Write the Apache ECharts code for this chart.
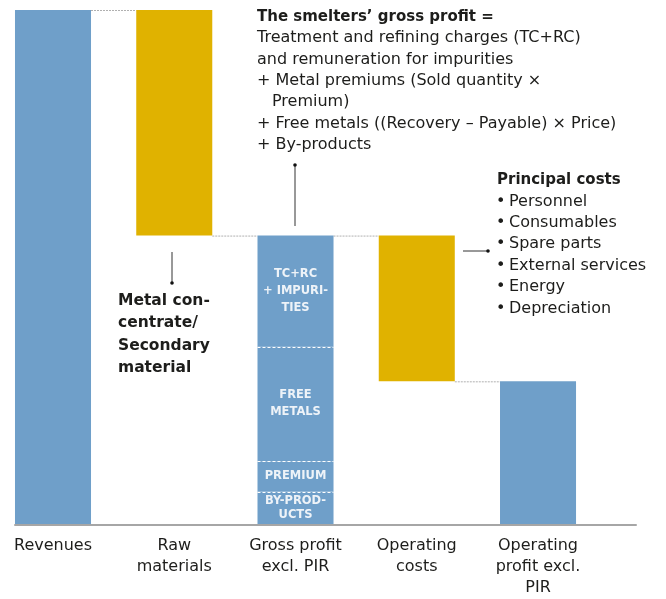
<!DOCTYPE html>
<html>
<head>
<meta charset="utf-8">
<script src="https://cdn.jsdelivr.net/npm/echarts@6/dist/echarts.min.js"></script>
<style>
  html, body { margin: 0; padding: 0; background: #fff; }
  #chart { width: 666px; height: 599px; }
</style>
</head>
<body>
<div id="chart"></div>
<script>
// ---- data ----
const categories = ['Revenues', 'Raw\nmaterials', 'Gross profit\nexcl. PIR', 'Operating\ncosts', 'Operating\nprofit excl.\nPIR'];
const revenues = 100;
const rawMaterials = 43.8;
const operatingCosts = 28.3;
// gross profit components, bottom to top
const grossParts = [6.5, 5.9, 22.2, 21.6];
const grossPartLabels = ['BY-PROD-\nUCTS', 'PREMIUM', 'FREE\nMETALS', 'TC+RC\n+ IMPURI-\nTIES'];

// ---- styles ----
const BLUE = '#6f9fc9';
const GOLD = '#e0b200';
const TEXT = '#1d1d1b';
const FONT = '"DejaVu Sans"';

// ---- waterfall construction ----
const grossProfit = revenues - rawMaterials;
const operatingProfit = grossProfit - operatingCosts;

const bars = []; // [x, low, high, colorIndex, label]
bars.push([0, 0, revenues, 0, '']);
bars.push([1, grossProfit, revenues, 1, '']);
let acc = 0;
const separators = [];
grossParts.forEach((v, i) => {
  bars.push([2, acc, acc + v, 0, grossPartLabels[i]]);
  acc += v;
  if (i < grossParts.length - 1) separators.push([2, acc]);
});
bars.push([3, operatingProfit, grossProfit, 1, '']);
bars.push([4, 0, operatingProfit, 0, '']);

const connectors = [
  [0, 1, revenues],
  [1, 2, grossProfit],
  [2, 3, grossProfit],
  [3, 4, operatingProfit]
];

const BAR_FRAC = 0.627;

const chart = echarts.init(document.getElementById('chart'), null, { renderer: 'canvas' });

function txt(text, x, y, bold, size, lh) {
  return {
    type: 'text', z: 100,
    style: {
      text: text, x: x, y: y,
      font: (bold ? 'bold ' : '') + size + 'px ' + FONT,
      fill: TEXT, lineHeight: lh, verticalAlign: 'top', align: 'left'
    }
  };
}
function arrow(x1, y1, x2, y2) {
  return [
    { type: 'line', z: 100, shape: { x1, y1, x2, y2 }, style: { stroke: '#333', lineWidth: 1 } },
    { type: 'circle', z: 100, shape: { cx: x2, cy: y2, r: 1.8 }, style: { fill: '#111' } }
  ];
}

const topLH = 21.3;
const graphics = [
  txt('The smelters\u2019 gross profit =', 257, 17 - topLH / 2, true, 15, topLH),
  txt('Treatment and refining charges (TC+RC)\nand remuneration for impurities\n+ Metal premiums (Sold quantity \u00d7', 257, 17 + topLH / 2, false, 16, topLH),
  txt('Premium)', 272, 17 + topLH * 3.5, false, 16, topLH),
  txt('+ Free metals ((Recovery \u2013 Payable) \u00d7 Price)\n+ By-products', 257, 17 + topLH * 4.5, false, 16, topLH),
  txt('Metal con-\ncentrate/\nSecondary\nmaterial', 118, 301 - 11.2, true, 15.5, 22.4),
  txt('Principal costs', 497, 180.5 - 10.7, true, 15, 21.4),
  txt('\u2022\n\u2022\n\u2022\n\u2022\n\u2022\n\u2022', 496, 201.5 - 10.7, false, 16, 21.4),
  txt('Personnel\nConsumables\nSpare parts\nExternal services\nEnergy\nDepreciation', 509, 201.5 - 10.7, false, 16, 21.4)
].concat(arrow(295, 226, 295, 165), arrow(172, 252, 172, 283), arrow(463, 251, 488, 251));

const option = {
  animation: false,
  backgroundColor: '#fff',
  grid: { left: 15, right: 30, top: 10, bottom: 74, containLabel: false },
  xAxis: {
    type: 'value',
    min: -0.3134, max: 4.808,
    z: 10,
    splitLine: { show: false },
    axisTick: { show: false },
    axisLine: { show: true, lineStyle: { color: '#a6a6a6', width: 2 } },
    axisLabel: {
      customValues: [0, 1, 2, 3, 4],
      formatter: v => categories[Math.round(v)] || '',
      color: TEXT, fontFamily: 'DejaVu Sans', fontSize: 16, lineHeight: 21, margin: 10,
      showMinLabel: true, showMaxLabel: true
    }
  },
  yAxis: { type: 'value', min: 0, max: revenues, show: false, splitLine: { show: false } },
  series: [
    {
      type: 'custom', z: 2,
      data: connectors,
      renderItem: (params, api) => {
        const w = api.size([1, 0])[0] * BAR_FRAC;
        const a = api.coord([api.value(0), api.value(2)]);
        const b = api.coord([api.value(1), api.value(2)]);
        return {
          type: 'line',
          shape: { x1: a[0] + w / 2, y1: a[1] + 0.5, x2: b[0] - w / 2, y2: b[1] + 0.5 },
          style: { stroke: '#b0b0b0', lineWidth: 1, lineDash: [2, 1] }
        };
      }
    },
    {
      type: 'custom', z: 3,
      data: bars,
      renderItem: (params, api) => {
        const w = api.size([1, 0])[0] * BAR_FRAC;
        const top = api.coord([api.value(0), api.value(2)]);
        const bot = api.coord([api.value(0), api.value(1)]);
        const h = bot[1] - top[1];
        const label = bars[params.dataIndex][4];
        const nLines = label ? label.split('\n').length : 1;
        const lh = Math.min(17, (h - 6) / nLines);
        return {
          type: 'rect',
          shape: { x: top[0] - w / 2, y: top[1], width: w, height: h },
          style: { fill: api.value(3) === 0 ? BLUE : GOLD },
          textContent: label ? {
            style: {
              text: label, fill: '#eef3f8', font: 'bold 11.5px ' + FONT,
              lineHeight: lh, align: 'center', verticalAlign: 'middle'
            }
          } : undefined,
          textConfig: { position: 'inside' }
        };
      }
    },
    {
      type: 'custom', z: 4,
      data: separators,
      renderItem: (params, api) => {
        const w = api.size([1, 0])[0] * BAR_FRAC;
        const p = api.coord([api.value(0), api.value(1)]);
        return {
          type: 'line',
          shape: { x1: p[0] - w / 2, y1: Math.round(p[1]) + 0.5, x2: p[0] + w / 2, y2: Math.round(p[1]) + 0.5 },
          style: { stroke: '#ffffff', lineWidth: 1, lineDash: [3, 2] }
        };
      }
    }
  ],
  graphic: graphics
};
chart.setOption(option);
</script>
</body>
</html>
